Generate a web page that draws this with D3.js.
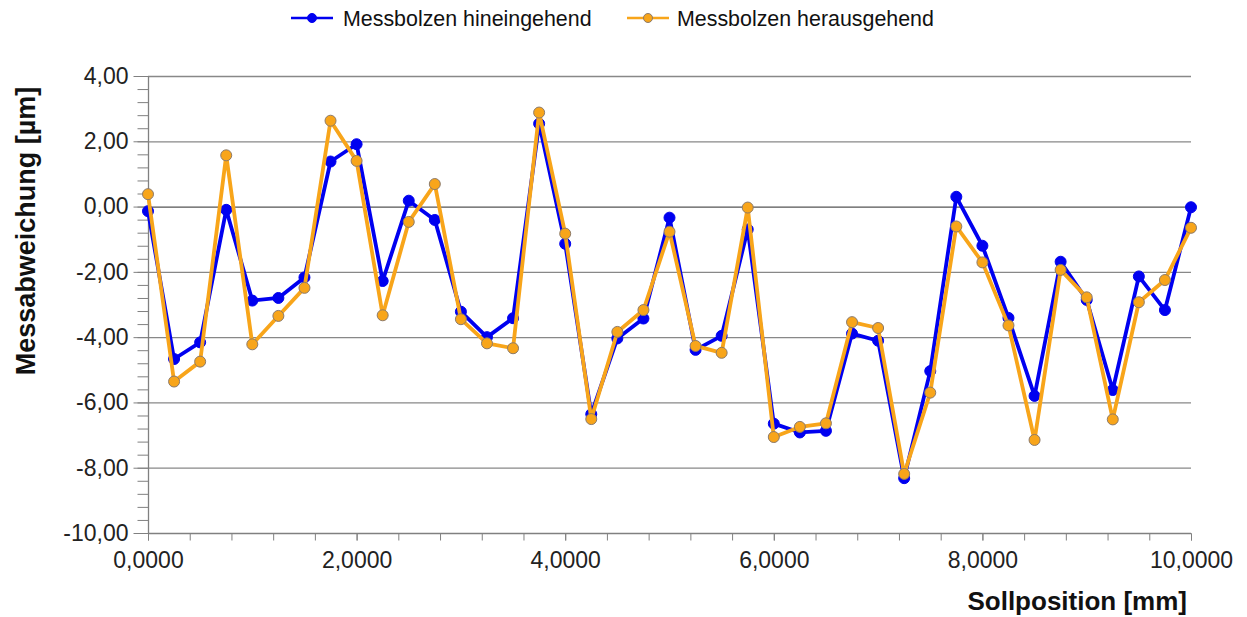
<!DOCTYPE html>
<html><head><meta charset="utf-8">
<script src="https://cdn.jsdelivr.net/npm/d3@7"></script>
<style>
html,body{margin:0;padding:0;background:#fff;}
svg{display:block;font-family:"Liberation Sans",Arial,sans-serif;}
</style></head>
<body><svg id="c" width="1247" height="617"></svg>
<script>
const positions = [0,0.25,0.5,0.75,1,1.25,1.5,1.75,2,2.25,2.5,2.75,3,3.25,3.5,3.75,4,4.25,4.5,4.75,5,5.25,5.5,5.75,6,6.25,6.5,6.75,7,7.25,7.5,7.75,8,8.25,8.5,8.75,9,9.25,9.5,9.75,10];
const hinein = [-0.14,-4.67,-4.16,-0.10,-2.88,-2.80,-2.17,1.38,1.91,-2.28,0.18,-0.41,-3.22,-4.00,-3.42,2.54,-1.14,-6.36,-4.04,-3.43,-0.34,-4.39,-3.96,-0.70,-6.65,-6.92,-6.87,-3.89,-4.11,-8.32,-5.04,0.30,-1.20,-3.41,-5.80,-1.69,-2.86,-5.62,-2.14,-3.17,-0.02];
const heraus = [0.38,-5.36,-4.75,1.57,-4.22,-3.35,-2.49,2.63,1.40,-3.33,-0.47,0.69,-3.45,-4.19,-4.34,2.88,-0.83,-6.51,-3.84,-3.17,-0.77,-4.27,-4.48,-0.03,-7.06,-6.75,-6.64,-3.54,-3.72,-8.19,-5.70,-0.61,-1.71,-3.64,-7.15,-1.94,-2.78,-6.52,-2.93,-2.25,-0.65];
const seriesNames = ["Messbolzen hineingehend","Messbolzen herausgehend"];
const xTicks = [0,2,4,6,8,10];
const yTicks = [4,2,0,-2,-4,-6,-8,-10];

const svg = d3.select("#c");
const L=148, T=76, W=1043, H=457;
const x = d3.scaleLinear().domain([0,10]).range([L,L+W]);
const y = d3.scaleLinear().domain([-10,4]).range([T+H,T]);
const fmtY = v => d3.format(".2f")(v).replace(".",",").replace("−","-");
const fmtX = v => d3.format(".4f")(v).replace(".",",");
const FONT = "Liberation Sans, Arial, sans-serif";

// gridlines
svg.append("g").selectAll("line").data(yTicks.filter(v=>v>-10)).join("line")
  .attr("x1",L).attr("x2",L+W).attr("y1",d=>y(d)+0.5).attr("y2",d=>y(d)+0.5)
  .attr("stroke",d=>d===0?"#555":"#888").attr("stroke-width",1.3);

// y axis
const yMinor = d3.range(-10,4.001,0.4).map(v=>+v.toFixed(2));
const gyMinor = svg.append("g").attr("transform",`translate(${L+0.5},0)`)
  .call(d3.axisLeft(y).tickValues(yMinor).tickSize(11).tickFormat(""));
gyMinor.select(".domain").remove();
gyMinor.selectAll("line").attr("stroke","#808080");
const gy = svg.append("g").attr("transform",`translate(${L+0.5},0)`)
  .call(d3.axisLeft(y).tickValues(yTicks).tickSize(15).tickPadding(5).tickFormat(fmtY));
gy.select(".domain").attr("stroke","#808080").attr("stroke-width",1.3).attr("d",`M0,${T}V${T+H}`);
gy.selectAll("line").attr("stroke","#808080");
gy.selectAll("text").attr("font-size",23).attr("fill","#222").attr("font-family",FONT);

// x axis
const xMinor = d3.range(0,10.001,0.4).map(v=>+v.toFixed(2));
const gxMinor = svg.append("g").attr("transform",`translate(0,${T+H+0.5})`)
  .call(d3.axisBottom(x).tickValues(xMinor).tickSize(7).tickFormat(""));
gxMinor.select(".domain").remove();
gxMinor.selectAll("line").attr("stroke","#808080");
const gx = svg.append("g").attr("transform",`translate(0,${T+H+0.5})`)
  .call(d3.axisBottom(x).tickValues(xTicks).tickSize(7).tickPadding(11).tickFormat(fmtX));
gx.select(".domain").attr("stroke","#808080").attr("stroke-width",1.3).attr("d",`M${L},0H${L+W}`);
gx.selectAll("line").attr("stroke","#808080");
gx.selectAll("text").attr("font-size",23).attr("fill","#222").attr("font-family",FONT);

// axis titles
svg.append("text").attr("transform",`translate(35,231) rotate(-90)`).attr("text-anchor","middle")
  .attr("font-size",27).attr("font-weight","bold").attr("fill","#111").text("Messabweichung [µm]");
svg.append("text").attr("x",1187).attr("y",610).attr("text-anchor","end")
  .attr("font-size",26).attr("font-weight","bold").attr("fill","#111").text("Sollposition [mm]");

// series
const line = d3.line().x((d,i)=>x(positions[i])).y(d=>y(d));
const colors = ["#0000f0","#f8a51a"];
const data = [hinein, heraus];
data.forEach((s,k)=>{
  svg.append("path").datum(s).attr("d",line).attr("fill","none")
    .attr("stroke",colors[k]).attr("stroke-width",3.8).attr("stroke-linejoin","round");
  svg.append("g").selectAll("circle").data(s).join("circle")
    .attr("cx",(d,i)=>x(positions[i])).attr("cy",d=>y(d)).attr("r",5.5)
    .attr("fill",colors[k]).attr("stroke",k===0?colors[k]:"#8c7a6a").attr("stroke-width",1);
});

// legend
const leg = [{x0:291,tx:343},{x0:627,tx:677}];
leg.forEach((p,k)=>{
  const g = svg.append("g");
  g.append("line").attr("x1",p.x0).attr("x2",p.x0+42).attr("y1",18).attr("y2",18)
    .attr("stroke",colors[k]).attr("stroke-width",2.5);
  g.append("circle").attr("cx",p.x0+21).attr("cy",18).attr("r",4.5)
    .attr("fill",colors[k]).attr("stroke",k===0?colors[k]:"#8c7a6a").attr("stroke-width",1);
  g.append("text").attr("x",p.tx).attr("y",26).attr("font-size",21.4).attr("fill","#111")
    .attr("font-family",FONT).text(seriesNames[k]);
});
</script></body></html>
